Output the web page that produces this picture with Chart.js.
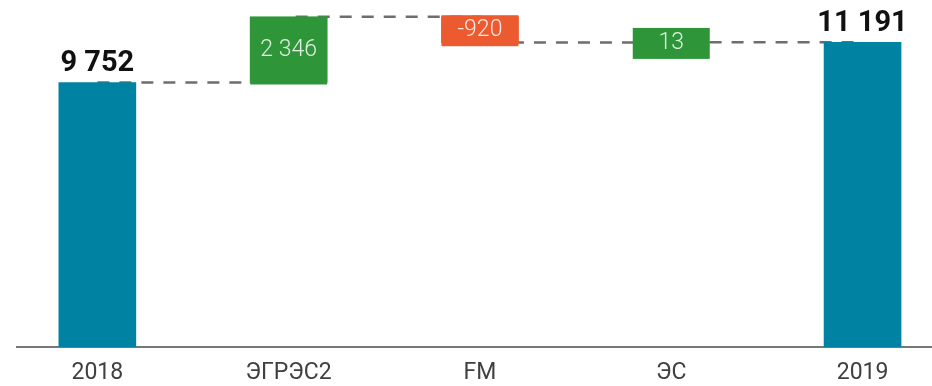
<!DOCTYPE html>
<html>
<head>
<meta charset="utf-8">
<script src="https://cdn.jsdelivr.net/npm/chart.js@4"></script>
<style>
  html, body { margin: 0; padding: 0; background: #fff; }
  #wrap { width: 932px; height: 386px; }
</style>
</head>
<body>
<div id="wrap"><canvas id="waterfall"></canvas></div>
<script>
// данные
const categories = ['2018', 'ЭГРЭС2', 'FM', 'ЭС', '2019'];
const values = [9752, 2346, -920, 13, 11191];
const kinds = ['total', 'delta', 'delta', 'delta', 'total'];

const totalColor = '#0083a3';
const upColor = '#2e9639';
const downColor = '#ec5b2f';

function fmt(v) {
    return String(v).replace(/\B(?=(\d{3})+(?!\d))/g, ' ');
}

// плавающие бары + уровни для пунктира
let running = 0;
const ranges = [];
const levels = [];
values.forEach((v, i) => {
    if (kinds[i] === 'total') {
        ranges.push([0, v]);
        running = v;
    } else {
        ranges.push([running, running + v]);
        running += v;
    }
    levels.push(running);
});

const barColors = values.map((v, i) => kinds[i] === 'total' ? totalColor : (v < 0 ? downColor : upColor));

const waterfallLabels = {
    id: 'waterfallLabels',
    afterDatasetsDraw(chart) {
        const ctx = chart.ctx;
        const meta = chart.getDatasetMeta(1);
        ctx.save();
        ctx.textAlign = 'center';
        meta.data.forEach((bar, i) => {
            const top = Math.min(bar.y, bar.base);
            const bottom = Math.max(bar.y, bar.base);
            if (kinds[i] === 'total') {
                ctx.font = 'bold 29px Roboto';
                ctx.fillStyle = '#111';
                ctx.textBaseline = 'alphabetic';
                ctx.fillText(fmt(values[i]), bar.x, top - 11);
            } else {
                // подпись-плашка, не меньше 31px
                const h = Math.max(bottom - top + 2, 31);
                const mid = (top + bottom) / 2 + 1;
                ctx.fillStyle = barColors[i];
                ctx.fillRect(bar.x - bar.width / 2, mid - h / 2, bar.width, h);
                ctx.font = '300 23px Roboto';
                ctx.fillStyle = 'rgba(255,255,255,0.85)';
                ctx.textBaseline = 'middle';
                ctx.fillText(fmt(values[i]), bar.x, mid);
            }
        });
        ctx.restore();
    }
};

Chart.defaults.font.family = 'Roboto';

const ctx = document.getElementById('waterfall').getContext('2d');
new Chart(ctx, {
    type: 'bar',
    data: {
        datasets: [{
            type: 'line',
            data: levels.map((y, i) => ({ x: i, y: y })),
            stepped: true,
            borderColor: '#6e6e6e',
            borderWidth: 2.5,
            borderDash: [12, 10],
            pointRadius: 0,
            fill: false,
            order: 2
        }, {
            type: 'bar',
            data: ranges.map((r, i) => ({ x: i, y: r })),
            backgroundColor: barColors,
            barThickness: 77,
            borderWidth: 0,
            order: 1
        }]
    },
    options: {
        responsive: true,
        maintainAspectRatio: false,
        animation: false,
        layout: {
            padding: { left: 17, right: 0, top: 0, bottom: 0 }
        },
        plugins: {
            legend: { display: false },
            tooltip: { enabled: false }
        },
        scales: {
            x: {
                type: 'linear',
                min: -0.42,
                max: 4.363,
                offset: false,
                grid: { display: false, drawTicks: false },
                border: { display: true, color: '#777', width: 2 },
                afterBuildTicks: function(scale) {
                    scale.ticks = categories.map((c, i) => ({ value: i }));
                },
                afterFit: function(scale) {
                    scale.height = 39;
                },
                ticks: {
                    padding: 12,
                    maxRotation: 0,
                    autoSkip: false,
                    color: '#404040',
                    font: { size: 23 },
                    callback: function(value) {
                        return categories[value];
                    }
                }
            },
            y: {
                display: false,
                min: 300,
                max: 12700
            }
        }
    },
    plugins: [waterfallLabels]
});
</script>
</body>
</html>
